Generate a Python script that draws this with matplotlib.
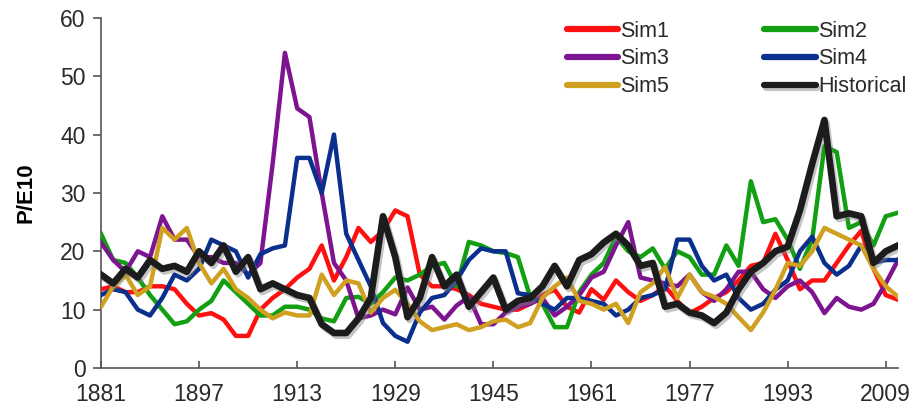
import numpy as np
import matplotlib
matplotlib.use("Agg")
import matplotlib.pyplot as plt
import matplotlib.patheffects as pe

plt.rcParams['font.family'] = ['Liberation Sans', 'DejaVu Sans']

# years, every two years
years = list(range(1881, 2012, 2))

sim1 = [13.5, 14, 13, 13, 14, 14, 13.5, 11, 9, 9.4,
        8.3, 5.5, 5.5, 10, 12, 13.5, 15.5, 17, 21, 15,
        19, 24, 21.6, 23.5, 27, 26, 16, 14, 14, 13.5,
        12.5, 11, 10.5, 10, 10, 11, 12.5, 13.4, 10.5, 9.5,
        13.5, 11.7, 15, 13, 11.5, 12.5, 14, 11.5, 9.4, 10.5,
        12, 13, 15, 17.5, 18, 23, 18.5, 13.5, 15, 15,
        18, 21, 23.5, 17, 12.5, 11.7]

sim2 = [23, 18.5, 18, 15.5, 12.5, 10, 7.5, 8, 10, 11.5,
        15, 13, 11, 9, 9, 10.5, 10.5, 10, 8.5, 8,
        12, 12.2, 11, 13, 15.5, 15, 16, 17.5, 18, 14,
        21.6, 21, 20, 19.7, 19, 12.2, 11, 7, 7, 13,
        16, 18, 22.5, 20, 19, 20.5, 17, 20, 19, 16,
        16, 21, 17.5, 32, 25, 25.5, 22, 17, 22, 38,
        37, 24, 25, 21, 26, 26.6]

sim3 = [21.5, 18.5, 16.5, 20, 19, 26, 22, 22, 19, 19,
        18, 18, 16, 18, 35, 54, 44.5, 43, 30, 18,
        15, 8.5, 9, 10, 9.2, 13.8, 10, 10.5, 8.3, 10.7,
        12.2, 7.5, 7.5, 9.5, 10.5, 11, 12, 9, 10.5, 12.5,
        15.5, 16.5, 21, 25, 15.5, 15, 14.5, 14, 16, 13,
        11.5, 13.5, 16.5, 16.5, 13.5, 12, 14, 15, 13, 9.4,
        12, 10.5, 10, 11, 14.5, 18.5]

sim4 = [12.5, 13.5, 13, 10, 9, 12, 16, 15, 17, 22,
        21, 20, 15.5, 19.5, 20.5, 21, 36, 36, 30, 40,
        23, 18.5, 14, 7.7, 5.5, 4.5, 9.5, 12, 12.5, 15,
        18.5, 20.5, 20, 20, 12.8, 12.5, 11, 10, 12, 12,
        11.5, 11, 9, 10, 12, 12.5, 13.5, 22, 22, 17.5,
        15, 16, 12, 10, 11, 13.4, 15, 20, 22.5, 18,
        16, 17.5, 21, 18, 18.5, 18.5]

sim5 = [10.5, 14, 16, 12.5, 14, 24, 22, 24, 18, 14.5,
        17, 13.5, 12, 10, 8.5, 9.5, 9, 9, 16, 12.5,
        15, 14.5, 9.5, 12, 13.4, 11, 8, 6.5, 7, 7.5,
        6.5, 7, 8, 8.3, 7, 7.7, 12, 14, 15.5, 11.5,
        11, 10, 11, 7.7, 13, 14.5, 17.3, 12, 16, 13,
        12.2, 11, 8.7, 6.5, 9.5, 13.4, 18, 17.5, 20, 24,
        23, 22, 21, 17, 14, 12.2]

historical = [16, 14.5, 17, 15.5, 18.5, 17, 17.5, 16.5, 20, 18,
              21, 16.5, 19, 13.5, 14.5, 13.5, 12.5, 12, 7.5, 6,
              6, 8.5, 12, 26, 19, 8.7, 12, 19, 14, 16,
              10.5, 13, 15.5, 10, 11.5, 12, 14, 17.5, 14, 18.5,
              19.5, 21.5, 23, 21, 17.5, 18, 10.5, 11, 9.5, 9,
              7.7, 9.5, 13.5, 16.5, 18, 20, 20.8, 27, 35, 42.5,
              26, 26.5, 26, 18, 20, 21]

labels = ['Sim1', 'Sim2', 'Sim3', 'Sim4', 'Sim5', 'Historical']
colors = ['#ff1010', '#12a012', '#7d1490', '#0a2f8c', '#d0a020', '#1c1c1c']
series = [sim1, sim2, sim3, sim4, sim5, historical]

fig = plt.figure(figsize=(9.14, 4.11), dpi=100)
ax = fig.add_axes([0.1105, 0.1046, 0.872, 0.852])

lines = {}
for lab, col, vals in zip(labels, colors, series):
    if lab == 'Historical':
        ln, = ax.plot(years, vals, color=col, lw=4.8, solid_joinstyle='round',
                      path_effects=[pe.SimpleLineShadow(offset=(1.5, -2), shadow_color='gray', alpha=0.45),
                                    pe.Normal()], zorder=5)
    else:
        ln, = ax.plot(years, vals, color=col, lw=3.2, solid_joinstyle='round', zorder=3)
    lines[lab] = ln

ax.set_xlim(1881, 2011)
ax.set_ylim(0, 60)
ax.set_xticks(list(range(1881, 2010, 16)))
ax.set_yticks(range(0, 61, 10))

for s in ['top', 'right']:
    ax.spines[s].set_visible(False)
for s in ['left', 'bottom']:
    ax.spines[s].set_color('#555555')
    ax.spines[s].set_linewidth(1.2)

ax.tick_params(axis='y', direction='out', length=6, width=1.2, color='#555555',
               labelsize=16.5, labelcolor='#2a2a2a', pad=5)
ax.tick_params(axis='x', direction='in', length=5, width=1.2, color='#555555',
               labelsize=16.5, labelcolor='#2a2a2a', pad=11)

ax.set_ylabel('P/E10', fontsize=16, fontweight='bold', labelpad=17)

order = ['Sim1', 'Sim3', 'Sim5', 'Sim2', 'Sim4', 'Historical']
leg = ax.legend([lines[k] for k in order], order, ncol=2, frameon=False,
                loc='upper left', bbox_to_anchor=(558 / 914, 1 - 12 / 411),
                bbox_transform=fig.transFigure, fontsize=15.5,
                handlelength=2.4, handletextpad=0.1, columnspacing=4.4,
                labelspacing=0.32, borderaxespad=0)
for h in leg.get_lines():
    h.set_linewidth(4.5)
    h.set_solid_capstyle('round')
for t in leg.get_texts():
    t.set_color('#2a2a2a')

fig.savefig('out.png', dpi=100)
